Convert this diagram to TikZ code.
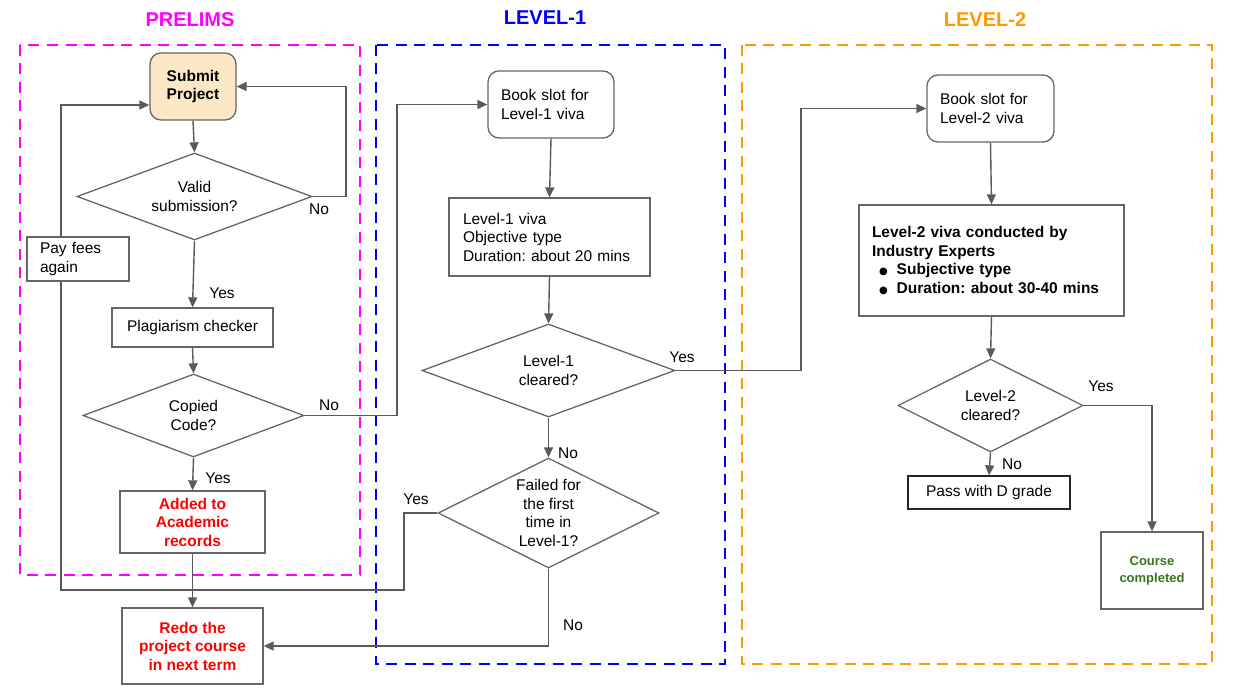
\documentclass[tikz,border=0pt]{standalone}
\usepackage{fontspec}
\setmainfont{Liberation Sans}
\newfontfamily\dejavu{DejaVu Sans}
\frenchspacing
\usetikzlibrary{arrows.meta,shapes.geometric}
\definecolor{ln}{HTML}{5A5A5A}
\definecolor{bd}{HTML}{666666}
\definecolor{subfill}{HTML}{FCE8C4}
\definecolor{mag}{HTML}{FF00FF}
\definecolor{blu}{HTML}{0000FF}
\definecolor{org}{HTML}{FF9900}
\definecolor{grn}{HTML}{38761D}
\newcommand{\fsz}{\fontsize{15.5}{18.5}\selectfont}
\newcommand{\mybul}{\hspace*{7pt}{\dejavu\fontsize{10}{10}\selectfont ●}\hspace{9pt}}
\begin{document}
\begin{tikzpicture}[x=1pt,y=-1pt,
  every node/.style={font=\fsz, text=black},
  box/.style={draw=bd, line width=1.3pt, rectangle, inner sep=0pt},
  rbox/.style={box, rounded corners=11pt},
  dec/.style={draw=bd, line width=1.3pt, diamond, shape aspect=2, inner sep=0pt, align=center},
  arr/.style={draw=ln, line width=1.4pt, -{Triangle[length=10pt,width=9pt]}},
  con/.style={draw=ln, line width=1.4pt},
  lbl/.style={font=\fsz, inner sep=0pt},
  frame/.style={dash pattern=on 11pt off 7.5pt, line width=2.8pt},
  title/.style={font=\fontsize{20}{24}\selectfont\bfseries, inner sep=0pt},
  bold/.style={font=\fsz\bfseries}]
\useasboundingbox (0,0) rectangle (1241,695);

% titles
\node[title, text=mag] (tp) at (190,20) {PRELIMS};
\node[title, text=blu] (t1) at (545,18) {LEVEL-1};
\node[title, text=org] (t2) at (985,20) {LEVEL-2};

% frames
\draw[frame, draw=mag] (20,45) rectangle (360,575);
\draw[frame, draw=blu] (376,45) rectangle (725,664);
\draw[frame, draw=org] (742,45) rectangle (1212,664);

% helper coordinates
\coordinate (cx1) at (346,0);
\coordinate (cxp) at (61,0);
\coordinate (cy1) at (0,105);
\coordinate (cxy) at (404,590);
\coordinate (cx2) at (397,0);
\coordinate (cx3) at (801,0);

% PRELIMS
\node[rbox, fill=subfill, minimum width=86, minimum height=67, align=center, bold] (submit) at (193,86.5) {Submit\\Project};
\node[dec, minimum width=235, minimum height=87] (valid) at (194.5,196.5) {Valid\\submission?};
\node[box, minimum width=102, minimum height=44, text width=76, inner xsep=13pt, align=left] (pay) at (78,259) {Pay fees\\again};
\node[box, minimum width=161, minimum height=39] (plag) at (192.5,327.5) {Plagiarism checker};
\node[dec, minimum width=221, minimum height=83] (copied) at (193.5,415.5) {Copied\\Code?};
\node[box, minimum width=145, minimum height=62, align=center, bold, text=red] (added) at (192.5,522) {Added to\\Academic\\records};
\node[box, minimum width=141, minimum height=76, align=center, bold, text=red] (redo) at (192.5,646) {Redo the\\project course\\in next term};

% LEVEL-1
\node[rbox, minimum width=126, minimum height=67, text width=100, inner xsep=13pt, align=left] (book1) at (551,104.5) {Book slot for\\Level-1 viva};
\node[box, minimum width=201, minimum height=78, text width=173, inner xsep=14pt, align=left] (v1) at (549.5,237) {Level-1 viva\\Objective type\\Duration: about 20 mins};
\node[dec, minimum width=253, minimum height=93] (l1c) at (548.5,370.5) {Level-1\\cleared?};
\node[dec, minimum width=221, minimum height=110] (failed) at (548.5,513) {Failed for\\the first\\time in\\Level-1?};

% LEVEL-2
\node[rbox, minimum width=127, minimum height=67, text width=101, inner xsep=13pt, align=left] (book2) at (990.5,108.5) {Book slot for\\Level-2 viva};
\node[box, minimum width=265, minimum height=111, text width=239, inner xsep=13pt, align=left, bold] (v2) at (991.5,260.5) {Level-2 viva conducted by\\Industry Experts\\\mybul Subjective type\\\mybul Duration: about 30-40 mins};
\node[dec, minimum width=185, minimum height=93] (l2c) at (990.5,405.5) {Level-2\\cleared?};
\node[box, draw=black!85, minimum width=162, minimum height=33] (pass) at (989,492.5) {Pass with D grade};
\node[box, minimum width=102, minimum height=77, align=center, text=grn, font=\fontsize{13}{17}\selectfont\bfseries] (course) at (1152,570.5) {Course\\completed};

% connectors
\draw[arr] (submit.south) -- (valid.north);
\draw[arr] (valid.south) -- (plag.north);
\draw[arr] (plag.south) -- (copied.north);
\draw[arr] (copied.south) -- (added.north);
\draw[arr] (added.south) -- (redo.north);
\draw[arr] (valid.east) -- (valid.east -| cx1) |- (submit.east);
\draw[arr] (pay.north -| cxp) |- (submit.west |- cy1);
\draw[con] (failed.west) -| (cxy) -| (pay.south -| cxp);
\draw[arr] (copied.east) -- (copied.east -| cx2) |- (book1.west);
\draw[arr] (book1.south) -- (v1.north);
\draw[arr] (v1.south) -- (l1c.north);
\draw[arr] (l1c.south) -- (failed.north);
\draw[arr] (failed.south) |- (redo.east);
\draw[arr] (l1c.east) -- (l1c.east -| cx3) |- (book2.west);
\draw[arr] (book2.south) -- (v2.north);
\draw[arr] (v2.south) -- (l2c.north);
\draw[arr] (l2c.south) -- (pass.north);
\draw[arr] (l2c.east) -| (course.north);

% labels
\node[lbl] (n1) at (319,209) {No};
\node[lbl] (y1) at (222,293) {Yes};
\node[lbl] (n2) at (329,405) {No};
\node[lbl] (y2) at (218,478) {Yes};
\node[lbl] (y3) at (682,357) {Yes};
\node[lbl] (n3) at (568,453) {No};
\node[lbl] (y4) at (416,499) {Yes};
\node[lbl] (n4) at (573,625) {No};
\node[lbl] (y5) at (1101,386) {Yes};
\node[lbl] (n5) at (1012,464) {No};
\end{tikzpicture}
\end{document}
